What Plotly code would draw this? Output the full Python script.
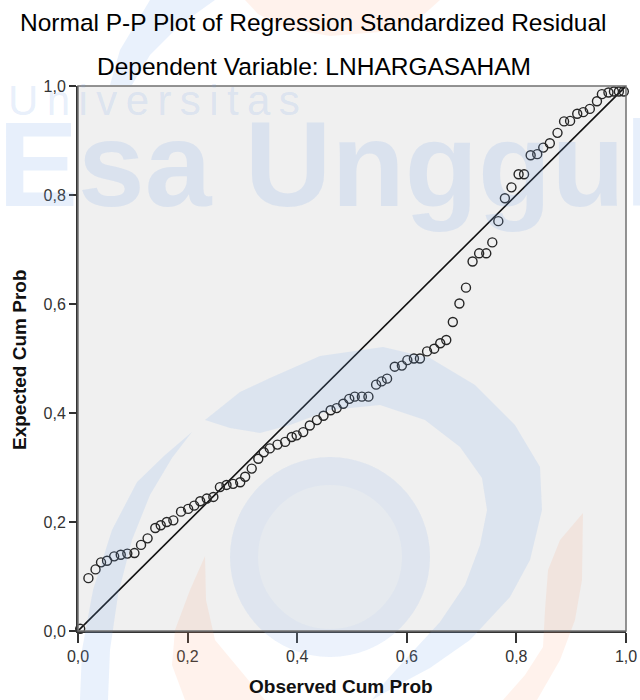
import plotly.graph_objects as go

# Observed vs expected cumulative probabilities
observed_cum_prob = [
    0.004, 0.019, 0.032, 0.042, 0.053, 0.066, 0.078, 0.090, 0.103, 0.115,
    0.127, 0.141, 0.151, 0.162, 0.174, 0.188, 0.201, 0.212, 0.223, 0.235,
    0.247, 0.259, 0.271, 0.283, 0.296, 0.305, 0.317, 0.329, 0.339, 0.350,
    0.364, 0.378, 0.390, 0.399, 0.411, 0.423, 0.436, 0.448, 0.461, 0.472,
    0.484, 0.495, 0.505, 0.518, 0.530, 0.544, 0.554, 0.564, 0.578, 0.591,
    0.601, 0.613, 0.624, 0.637, 0.650, 0.661, 0.672, 0.684, 0.696, 0.708,
    0.720, 0.732, 0.745, 0.756, 0.767, 0.779, 0.791, 0.804, 0.814, 0.826,
    0.838, 0.849, 0.861, 0.875, 0.887, 0.898, 0.911, 0.922, 0.934, 0.947,
    0.956, 0.968, 0.978, 0.987, 0.996,
]
expected_cum_prob = [
    0.004, 0.097, 0.113, 0.126, 0.129, 0.137, 0.140, 0.142, 0.143, 0.158,
    0.170, 0.189, 0.194, 0.200, 0.203, 0.219, 0.224, 0.230, 0.238, 0.243,
    0.246, 0.264, 0.268, 0.270, 0.273, 0.283, 0.298, 0.316, 0.328, 0.335,
    0.342, 0.347, 0.356, 0.359, 0.365, 0.377, 0.387, 0.395, 0.405, 0.409,
    0.417, 0.426, 0.430, 0.430, 0.430, 0.452, 0.458, 0.463, 0.485, 0.487,
    0.497, 0.500, 0.500, 0.513, 0.518, 0.528, 0.534, 0.567, 0.601, 0.630,
    0.678, 0.693, 0.693, 0.713, 0.752, 0.794, 0.814, 0.838, 0.838, 0.873,
    0.875, 0.887, 0.895, 0.914, 0.935, 0.936, 0.949, 0.952, 0.958, 0.972,
    0.985, 0.988, 0.990, 0.990, 0.990,
]
reference_line = [0.0, 1.0]
tick_values = [0.0, 0.2, 0.4, 0.6, 0.8, 1.0]
tick_labels = ["0,0", "0,2", "0,4", "0,6", "0,8", "1,0"]

title_text = "Normal P-P Plot of Regression Standardized Residual"
subtitle_text = "Dependent Variable: LNHARGASAHAM"
x_title = "Observed Cum Prob"
y_title = "Expected Cum Prob"
watermark_small = "U\u2009n\u2009i\u2009v\u2009e\u2009r\u2009s\u2009i\u2009t\u2009a\u2009s"
watermark_big = "Esa Unggul"

W, H = 640, 700
L, R, T, B = 78, 14, 86, 69
pw, ph = W - L - R, H - T - B
FONT = "Liberation Sans, Arial, sans-serif"


def px(x):
    return (x - L) / pw


def py(y):
    return (H - B - y) / ph


def deco_path(points):
    # closed decorative outline (page pixels -> paper coordinates)
    pts = [(px(a), py(b)) for a, b in points]
    d = "M %.4f %.4f " % pts[0]
    d += " ".join("L %.4f %.4f" % p for p in pts[1:])
    return d + " Z"


fig = go.Figure()

fig.add_trace(go.Scatter(
    x=reference_line, y=reference_line, mode="lines",
    line=dict(color="#111111", width=1.6), hoverinfo="skip", showlegend=False,
))
fig.add_trace(go.Scatter(
    x=observed_cum_prob, y=expected_cum_prob, mode="markers",
    marker=dict(symbol="circle-open", size=9, color="#262626", line=dict(width=1.4)),
    cliponaxis=False, showlegend=False,
))

wm = "rgba(120,165,235,0.18)"
wm_soft = "rgba(120,165,235,0.16)"
wm_or = "rgba(255,150,100,0.12)"
annotations = [
    dict(text=title_text, x=px(313), y=py(22), xref="paper", yref="paper",
         showarrow=False, xanchor="center", yanchor="middle",
         font=dict(size=24.5, color="#000000", family=FONT)),
    dict(text=subtitle_text, x=px(313.5), y=py(66), xref="paper", yref="paper",
         showarrow=False, xanchor="center", yanchor="middle",
         font=dict(size=24.5, color="#000000", family=FONT)),
    dict(text="<b>" + x_title + "</b>", x=px(341), y=py(686), xref="paper", yref="paper",
         showarrow=False, xanchor="center", yanchor="middle",
         font=dict(size=19, color="#111111", family=FONT)),
    dict(text="<b>" + y_title + "</b>", x=px(20), y=py(360), xref="paper", yref="paper",
         showarrow=False, xanchor="center", yanchor="middle", textangle=-90,
         font=dict(size=19, color="#111111", family=FONT)),
    dict(text=watermark_small, x=px(6), y=py(100), xref="paper", yref="paper",
         showarrow=False, xanchor="left", yanchor="middle",
         font=dict(size=42, color=wm, family=FONT)),
    dict(text="<b>" + watermark_big + "</b>", x=px(-4), y=py(164), xref="paper", yref="paper",
         showarrow=False, xanchor="left", yanchor="middle",
         font=dict(size=120, color=wm, family=FONT)),
]

crescent = [(205, 420), (240, 392), (270, 378), (320, 356), (383, 347), (430, 358),
            (475, 385), (515, 425), (540, 467), (542, 510), (530, 560), (510, 597),
            (470, 640), (430, 668), (400, 684), (372, 700), (385, 682), (405, 660),
            (440, 622), (465, 585), (480, 545), (487, 510), (482, 478), (460, 447),
            (425, 420), (380, 405), (330, 410), (290, 425), (260, 433), (230, 428)]
left_swoosh = [(192, 432), (165, 455), (137, 482), (112, 530), (93, 590), (82, 650),
               (80, 700), (108, 700), (110, 650), (118, 595), (132, 540), (150, 495),
               (172, 458)]
flame_mid = [(205, 556), (190, 590), (175, 630), (172, 665), (185, 700), (265, 700),
             (240, 670), (215, 640), (206, 600)]
flame_right = [(583, 513), (560, 540), (548, 570), (545, 610), (543, 647), (525, 675),
               (503, 700), (537, 700), (560, 660), (575, 620), (582, 580)]
top_orange = [(245, 0), (440, 0), (420, 18), (380, 32), (330, 36), (285, 28), (258, 14)]
top_blue = [(150, 0), (215, 0), (180, 25), (150, 55), (132, 85), (110, 85), (120, 50)]

shapes = []
for pts, col in [(crescent, wm_soft), (left_swoosh, wm_soft), (top_blue, wm_soft),
                 (flame_mid, wm_or), (flame_right, wm_or), (top_orange, wm_or)]:
    shapes.append(dict(type="path", xref="paper", yref="paper", path=deco_path(pts),
                       fillcolor=col, line=dict(width=0), layer="above"))

# sphere: soft fill with a slightly bluer rim
shapes.append(dict(type="circle", xref="paper", yref="paper",
                   x0=px(230), x1=px(430), y0=py(657), y1=py(457),
                   fillcolor="rgba(150,185,240,0.10)", line=dict(width=0), layer="above"))
shapes.append(dict(type="circle", xref="paper", yref="paper",
                   x0=px(244), x1=px(416), y0=py(643), y1=py(471),
                   fillcolor="rgba(0,0,0,0)",
                   line=dict(width=28, color="rgba(150,185,240,0.09)"), layer="above"))

# top/right frame
shapes.append(dict(type="rect", xref="paper", yref="paper", x0=0, x1=1, y0=0, y1=1,
                   line=dict(color="#707070", width=1.5), layer="above"))

fig.update_layout(
    width=W, height=H,
    margin=dict(l=L, r=R, t=T, b=B, autoexpand=False),
    paper_bgcolor="white", plot_bgcolor="#f0f0f0",
    showlegend=False,
    annotations=annotations,
    shapes=shapes,
    font=dict(family=FONT, color="#222222"),
)
fig.update_xaxes(
    range=[0, 1], tickvals=tick_values, ticktext=tick_labels, automargin=False,
    showgrid=False, zeroline=False, ticks="outside", ticklen=10, tickwidth=1.5,
    tickcolor="#333333", showline=True, linecolor="#333333", linewidth=2,
    mirror=False, tickfont=dict(size=16, color="#333333"),
)
fig.update_yaxes(
    range=[0, 1], tickvals=tick_values, ticktext=tick_labels, automargin=False,
    showgrid=False, zeroline=False, ticks="outside", ticklen=7, tickwidth=1.5,
    tickcolor="#333333", showline=True, linecolor="#333333", linewidth=2,
    mirror=False, tickfont=dict(size=16, color="#333333"),
)

fig.write_html(
    "out.html",
    config={"displayModeBar": False},
    post_script="document.body.style.margin='0';document.body.style.overflow='hidden';",
)
